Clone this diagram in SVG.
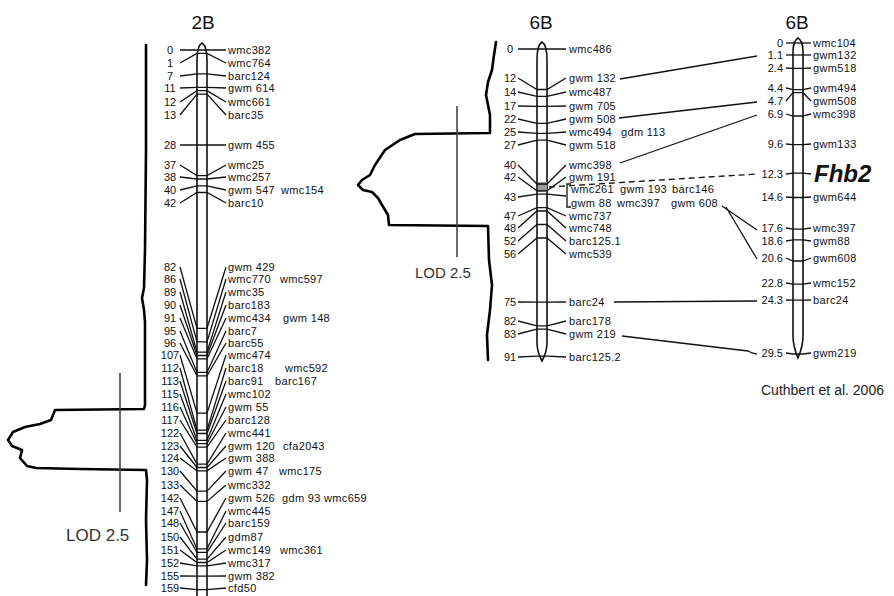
<svg xmlns="http://www.w3.org/2000/svg" width="894" height="596" viewBox="0 0 894 596">
<style>
.ln{stroke:#111;stroke-width:1.3;fill:none}
.ch{stroke:#111;stroke-width:1.6;fill:#fff}
.lod{stroke:#000;stroke-width:2.6;fill:none;stroke-linejoin:round;stroke-linecap:round}
.lv{stroke:#444;stroke-width:1.6}
.t{font-family:"Liberation Sans",Arial,sans-serif;font-size:11px;letter-spacing:0.35px;fill:#111}
.n{font-family:"Liberation Sans",Arial,sans-serif;font-size:11px;fill:#111;text-anchor:middle}
.nr{font-family:"Liberation Sans",Arial,sans-serif;font-size:11px;fill:#111;text-anchor:end}
.ttl{font-family:"Liberation Sans",Arial,sans-serif;font-size:19px;fill:#111;text-anchor:middle}
.lodt{font-family:"Liberation Sans",Arial,sans-serif;fill:#333}
</style>
<rect width="894" height="596" fill="#fff"/>

<!-- Titles -->
<text class="ttl" x="203" y="29">2B</text>
<text class="ttl" x="541" y="29">6B</text>
<text class="ttl" x="797" y="29">6B</text>

<!-- LOD curves -->
<g id="lod-2B">
<path class="lod" d="M146 45 L146 150 L145 250 L144 288 L142 298 L144 310 L145 322 L145 405 L144 409 L55 410 L51 420 L40 424 L25 427 L13 432 L8 440 L12 446 L22 450 L20 458 L27 466 L36 468 L80 469 L146 470 L147 480 L146 520 L147 560 L146 585"/>
<line class="lv" x1="120" y1="373" x2="120" y2="512"/>
<text class="lodt" x="66" y="541" font-size="17">LOD 2.5</text>
</g>
<g id="lod-6B">
<path class="lod" d="M496 42 L494 55 L492 70 L488 82 L486 95 L488 105 L490 115 L490 133 L415 134 L400 140 L385 150 L375 165 L370 175 L362 180 L358 185 L363 190 L372 192 L378 198 L382 205 L388 215 L389 225 L488 226 L489 260 L492 285 L490 310 L487 335 L488 360"/>
<line class="lv" x1="457" y1="106" x2="457" y2="257"/>
<text class="lodt" x="415" y="278" font-size="15">LOD 2.5</text>
</g>

<!-- Chromosomes -->
<g id="chr-2B">
<path class="ch" d="M197 600 L197 60 Q197 46 202 43 Q207 46 207 60 L207 600"/>
</g>
<g id="chr-6B-a">
<path class="ch" d="M537 60 Q537 45 542 42 Q547 45 547 60 L547 342 Q547 352 542 361 Q537 352 537 342 Z"/>
<rect x="538" y="182" width="9" height="10" fill="#999"/>
</g>
<g id="chr-6B-b">
<path class="ch" d="M793 52 Q793 41 798 38 Q803 41 803 52 L803 336 Q803 346 798 358 Q793 346 793 336 Z"/>
</g>

<!-- 2B markers -->
<g id="m2B-0"><polyline class="ln" points="180,50 197,50 207,50 226,50"/><text class="n" x="170" y="54">0</text><text class="t" x="228" y="54">wmc382</text></g>
<g id="m2B-1"><polyline class="ln" points="180,63 197,53.4 207,53.4 226,63"/><text class="n" x="170" y="67">1</text><text class="t" x="228" y="67">wmc764</text></g>
<g id="m2B-7"><polyline class="ln" points="180,76 197,73.8 207,73.8 226,76"/><text class="n" x="170" y="80">7</text><text class="t" x="228" y="80">barc124</text></g>
<g id="m2B-11"><polyline class="ln" points="180,88 197,87.3 207,87.3 226,88"/><text class="n" x="170" y="92">11</text><text class="t" x="228" y="92">gwm 614</text></g>
<g id="m2B-12"><polyline class="ln" points="180,102 197,90.7 207,90.7 226,102"/><text class="n" x="170" y="106">12</text><text class="t" x="228" y="106">wmc661</text></g>
<g id="m2B-13"><polyline class="ln" points="180,115 197,94.1 207,94.1 226,115"/><text class="n" x="170" y="119">13</text><text class="t" x="228" y="119">barc35</text></g>
<g id="m2B-28"><polyline class="ln" points="180,145 197,145 207,145 226,145"/><text class="n" x="170" y="149">28</text><text class="t" x="228" y="149">gwm 455</text></g>
<g id="m2B-37"><polyline class="ln" points="180,165 197,175.6 207,175.6 226,165"/><text class="n" x="170" y="169">37</text><text class="t" x="228" y="169">wmc25</text></g>
<g id="m2B-38"><polyline class="ln" points="180,177 197,179 207,179 226,177"/><text class="n" x="170" y="181">38</text><text class="t" x="228" y="181">wmc257</text></g>
<g id="m2B-40"><polyline class="ln" points="180,190 197,185.8 207,185.8 226,190"/><text class="n" x="170" y="194">40</text><text class="t" x="228" y="194">gwm 547<tspan x="281">wmc154</tspan></text></g>
<g id="m2B-42"><polyline class="ln" points="180,203 197,192.5 207,192.5 226,203"/><text class="n" x="170" y="207">42</text><text class="t" x="228" y="207">barc10</text></g>
<g id="m2B-82"><polyline class="ln" points="180,267 197,328.3 207,328.3 226,267"/><text class="n" x="170" y="271">82</text><text class="t" x="228" y="271">gwm 429</text></g>
<g id="m2B-86"><polyline class="ln" points="180,279 197,341.9 207,341.9 226,279"/><text class="n" x="170" y="283">86</text><text class="t" x="228" y="283">wmc770<tspan x="280">wmc597</tspan></text></g>
<g id="m2B-89"><polyline class="ln" points="180,292 197,352.1 207,352.1 226,292"/><text class="n" x="170" y="296">89</text><text class="t" x="228" y="296">wmc35</text></g>
<g id="m2B-90"><polyline class="ln" points="180,305 197,355.5 207,355.5 226,305"/><text class="n" x="170" y="309">90</text><text class="t" x="228" y="309">barc183</text></g>
<g id="m2B-91"><polyline class="ln" points="180,318 197,358.9 207,358.9 226,318"/><text class="n" x="170" y="322">91</text><text class="t" x="228" y="322">wmc434<tspan x="283">gwm 148</tspan></text></g>
<g id="m2B-95"><polyline class="ln" points="180,331 197,372.4 207,372.4 226,331"/><text class="n" x="170" y="335">95</text><text class="t" x="228" y="335">barc7</text></g>
<g id="m2B-96"><polyline class="ln" points="180,343 197,375.8 207,375.8 226,343"/><text class="n" x="170" y="347">96</text><text class="t" x="228" y="347">barc55</text></g>
<g id="m2B-107"><polyline class="ln" points="180,355 197,413.2 207,413.2 226,355"/><text class="n" x="170" y="359">107</text><text class="t" x="228" y="359">wmc474</text></g>
<g id="m2B-112"><polyline class="ln" points="180,368 197,430.1 207,430.1 226,368"/><text class="n" x="170" y="372">112</text><text class="t" x="228" y="372">barc18<tspan x="285">wmc592</tspan></text></g>
<g id="m2B-113"><polyline class="ln" points="180,381 197,433.5 207,433.5 226,381"/><text class="n" x="170" y="385">113</text><text class="t" x="228" y="385">barc91<tspan x="275">barc167</tspan></text></g>
<g id="m2B-115"><polyline class="ln" points="180,394 197,440.3 207,440.3 226,394"/><text class="n" x="170" y="398">115</text><text class="t" x="228" y="398">wmc102</text></g>
<g id="m2B-116"><polyline class="ln" points="180,407 197,443.7 207,443.7 226,407"/><text class="n" x="170" y="411">116</text><text class="t" x="228" y="411">gwm 55</text></g>
<g id="m2B-117"><polyline class="ln" points="180,420 197,447.1 207,447.1 226,420"/><text class="n" x="170" y="424">117</text><text class="t" x="228" y="424">barc128</text></g>
<g id="m2B-122"><polyline class="ln" points="180,433 197,464.1 207,464.1 226,433"/><text class="n" x="170" y="437">122</text><text class="t" x="228" y="437">wmc441</text></g>
<g id="m2B-123"><polyline class="ln" points="180,446 197,467.5 207,467.5 226,446"/><text class="n" x="170" y="450">123</text><text class="t" x="228" y="450">gwm 120<tspan x="283">cfa2043</tspan></text></g>
<g id="m2B-124"><polyline class="ln" points="180,458 197,470.9 207,470.9 226,458"/><text class="n" x="170" y="462">124</text><text class="t" x="228" y="462">gwm 388</text></g>
<g id="m2B-130"><polyline class="ln" points="180,471 197,491.2 207,491.2 226,471"/><text class="n" x="170" y="475">130</text><text class="t" x="228" y="475">gwm 47<tspan x="279">wmc175</tspan></text></g>
<g id="m2B-133"><polyline class="ln" points="180,485 197,501.4 207,501.4 226,485"/><text class="n" x="170" y="489">133</text><text class="t" x="228" y="489">wmc332</text></g>
<g id="m2B-142"><polyline class="ln" points="180,498 197,532 207,532 226,498"/><text class="n" x="170" y="502">142</text><text class="t" x="228" y="502">gwm 526<tspan x="282">gdm 93</tspan><tspan x="324">wmc659</tspan></text></g>
<g id="m2B-147"><polyline class="ln" points="180,511 197,548.9 207,548.9 226,511"/><text class="n" x="170" y="515">147</text><text class="t" x="228" y="515">wmc445</text></g>
<g id="m2B-148"><polyline class="ln" points="180,523 197,552.3 207,552.3 226,523"/><text class="n" x="170" y="527">148</text><text class="t" x="228" y="527">barc159</text></g>
<g id="m2B-150"><polyline class="ln" points="180,537 197,559.1 207,559.1 226,537"/><text class="n" x="170" y="541">150</text><text class="t" x="228" y="541">gdm87</text></g>
<g id="m2B-151"><polyline class="ln" points="180,550 197,562.5 207,562.5 226,550"/><text class="n" x="170" y="554">151</text><text class="t" x="228" y="554">wmc149<tspan x="280">wmc361</tspan></text></g>
<g id="m2B-152"><polyline class="ln" points="180,563 197,565.9 207,565.9 226,563"/><text class="n" x="170" y="567">152</text><text class="t" x="228" y="567">wmc317</text></g>
<g id="m2B-155"><polyline class="ln" points="180,576 197,576.1 207,576.1 226,576"/><text class="n" x="170" y="580">155</text><text class="t" x="228" y="580">gwm 382</text></g>
<g id="m2B-159"><polyline class="ln" points="180,588 197,589.6 207,589.6 226,588"/><text class="n" x="170" y="592">159</text><text class="t" x="228" y="592">cfd50</text></g>

<!-- 6B (middle) markers -->
<g id="m6Ba-0"><polyline class="ln" points="518,49 537,49 547,49 566,49"/><text class="n" x="510" y="53">0</text><text class="t" x="569" y="53">wmc486</text></g>
<g id="m6Ba-12"><polyline class="ln" points="518,78 537,89.5 547,89.5 566,78"/><text class="n" x="510" y="82">12</text><text class="t" x="569" y="82">gwm 132</text></g>
<g id="m6Ba-14"><polyline class="ln" points="518,92 537,96.3 547,96.3 566,92"/><text class="n" x="510" y="96">14</text><text class="t" x="569" y="96">wmc487</text></g>
<g id="m6Ba-17"><polyline class="ln" points="518,106 537,106.4 547,106.4 566,106"/><text class="n" x="510" y="110">17</text><text class="t" x="569" y="110">gwm 705</text></g>
<g id="m6Ba-22"><polyline class="ln" points="518,119 537,123.3 547,123.3 566,119"/><text class="n" x="510" y="123">22</text><text class="t" x="569" y="123">gwm 508</text></g>
<g id="m6Ba-25"><polyline class="ln" points="518,132 537,133.4 547,133.4 566,132"/><text class="n" x="510" y="136">25</text><text class="t" x="569" y="136">wmc494<tspan x="621">gdm 113</tspan></text></g>
<g id="m6Ba-27"><polyline class="ln" points="518,145 537,140.1 547,140.1 566,145"/><text class="n" x="510" y="149">27</text><text class="t" x="569" y="149">gwm 518</text></g>
<g id="m6Ba-40"><polyline class="ln" points="518,165 537,184 547,184 566,165"/><text class="n" x="510" y="169">40</text><text class="t" x="569" y="169">wmc398</text></g>
<g id="m6Ba-42"><polyline class="ln" points="518,177 537,190.8 547,190.8 566,177"/><text class="n" x="510" y="181">42</text><text class="t" x="569" y="181">gwm 191</text></g>
<g id="m6Ba-43"><polyline class="ln" points="518,197 537,194.1 547,194.1 566,196"/><path class="ln" d="M571 184 L567 184 L567 207 L571 207"/><text class="n" x="510" y="201">43</text><text class="t" x="571" y="193">wmc261<tspan x="620">gwm 193</tspan><tspan x="672">barc146</tspan></text><text class="t" x="571" y="207">gwm 88<tspan x="617">wmc397</tspan><tspan x="671">gwm 608</tspan></text></g>
<g id="m6Ba-47"><polyline class="ln" points="518,216 537,207.6 547,207.6 566,216"/><text class="n" x="510" y="220">47</text><text class="t" x="569" y="220">wmc737</text></g>
<g id="m6Ba-48"><polyline class="ln" points="518,228 537,211 547,211 566,228"/><text class="n" x="510" y="232">48</text><text class="t" x="569" y="232">wmc748</text></g>
<g id="m6Ba-52"><polyline class="ln" points="518,241 537,224.5 547,224.5 566,241"/><text class="n" x="510" y="245">52</text><text class="t" x="569" y="245">barc125.1</text></g>
<g id="m6Ba-56"><polyline class="ln" points="518,254 537,238 547,238 566,254"/><text class="n" x="510" y="258">56</text><text class="t" x="569" y="258">wmc539</text></g>
<g id="m6Ba-75"><polyline class="ln" points="518,302 537,302.1 547,302.1 566,302"/><text class="n" x="510" y="306">75</text><text class="t" x="569" y="306">barc24</text></g>
<g id="m6Ba-82"><polyline class="ln" points="518,321 537,325.8 547,325.8 566,321"/><text class="n" x="510" y="325">82</text><text class="t" x="569" y="325">barc178</text></g>
<g id="m6Ba-83"><polyline class="ln" points="518,334 537,329.1 547,329.1 566,334"/><text class="n" x="510" y="338">83</text><text class="t" x="569" y="338">gwm 219</text></g>
<g id="m6Ba-91"><polyline class="ln" points="518,357 537,356.1 547,356.1 566,357"/><text class="n" x="510" y="361">91</text><text class="t" x="569" y="361">barc125.2</text></g>

<!-- 6B (right, Cuthbert) markers -->
<g id="m6Bb-0"><polyline class="ln" points="786,43 793,43 803,43 811,43"/><text class="nr" x="783" y="47">0</text><text class="t" x="813" y="47">wmc104</text></g>
<g id="m6Bb-1.1"><polyline class="ln" points="786,55 793,55 803,55 811,55"/><text class="nr" x="783" y="59">1.1</text><text class="t" x="813" y="59">gwm132</text></g>
<g id="m6Bb-2.4"><polyline class="ln" points="786,68 793,68.4 803,68.4 811,68"/><text class="nr" x="783" y="72">2.4</text><text class="t" x="813" y="72">gwm518</text></g>
<g id="m6Bb-4.4"><polyline class="ln" points="786,88 793,89.6 803,89.6 811,88"/><text class="nr" x="783" y="92">4.4</text><text class="t" x="813" y="92">gwm494</text></g>
<g id="m6Bb-4.7"><polyline class="ln" points="786,101 793,92.7 803,92.7 811,101"/><text class="nr" x="783" y="105">4.7</text><text class="t" x="813" y="105">gwm508</text></g>
<g id="m6Bb-6.9"><polyline class="ln" points="786,114 793,116 803,116 811,114"/><text class="nr" x="783" y="118">6.9</text><text class="t" x="813" y="118">wmc398</text></g>
<g id="m6Bb-9.6"><polyline class="ln" points="786,144 793,144.6 803,144.6 811,144"/><text class="nr" x="783" y="148">9.6</text><text class="t" x="813" y="148">gwm133</text></g>
<g id="m6Bb-12.3"><polyline class="ln" points="786,174 793,173.1 803,173.1 811,174"/><text class="nr" x="783" y="178">12.3</text><text x="814" y="182" font-family="Liberation Sans, Arial, sans-serif" font-size="24" font-weight="bold" font-style="italic" fill="#111">Fhb2</text></g>
<g id="m6Bb-14.6"><polyline class="ln" points="786,197 793,197.5 803,197.5 811,197"/><text class="nr" x="783" y="201">14.6</text><text class="t" x="813" y="201">gwm644</text></g>
<g id="m6Bb-17.6"><polyline class="ln" points="786,228 793,229.2 803,229.2 811,228"/><text class="nr" x="783" y="232">17.6</text><text class="t" x="813" y="232">wmc397</text></g>
<g id="m6Bb-18.6"><polyline class="ln" points="786,241 793,239.8 803,239.8 811,241"/><text class="nr" x="783" y="245">18.6</text><text class="t" x="813" y="245">gwm88</text></g>
<g id="m6Bb-20.6"><polyline class="ln" points="786,258 793,261 803,261 811,258"/><text class="nr" x="783" y="262">20.6</text><text class="t" x="813" y="262">gwm608</text></g>
<g id="m6Bb-22.8"><polyline class="ln" points="786,283 793,284.2 803,284.2 811,283"/><text class="nr" x="783" y="287">22.8</text><text class="t" x="813" y="287">wmc152</text></g>
<g id="m6Bb-24.3"><polyline class="ln" points="786,300 793,300.1 803,300.1 811,300"/><text class="nr" x="783" y="304">24.3</text><text class="t" x="813" y="304">barc24</text></g>
<g id="m6Bb-29.5"><polyline class="ln" points="786,353 793,354 803,354 811,353"/><text class="nr" x="783" y="357">29.5</text><text class="t" x="813" y="357">gwm219</text></g>

<!-- Connectors between maps -->
<g id="connectors">
<line class="ln" x1="620" y1="79" x2="757" y2="56"/>
<line class="ln" x1="619" y1="118" x2="757" y2="102"/>
<line class="ln" x1="620" y1="163" x2="757" y2="115"/>
<line class="ln" x1="549" y1="187" x2="757" y2="174" stroke-dasharray="6 4"/>
<line class="ln" x1="722" y1="206" x2="757" y2="230"/>
<line class="ln" x1="726" y1="207" x2="757" y2="259"/>
<line class="ln" x1="614" y1="302" x2="757" y2="301"/>
<polyline class="ln" points="622,336 748,351 752,353 757,354"/>
</g>

<text x="761" y="395" font-family="Liberation Sans, Arial, sans-serif" font-size="14" fill="#222">Cuthbert et al. 2006</text>
</svg>
